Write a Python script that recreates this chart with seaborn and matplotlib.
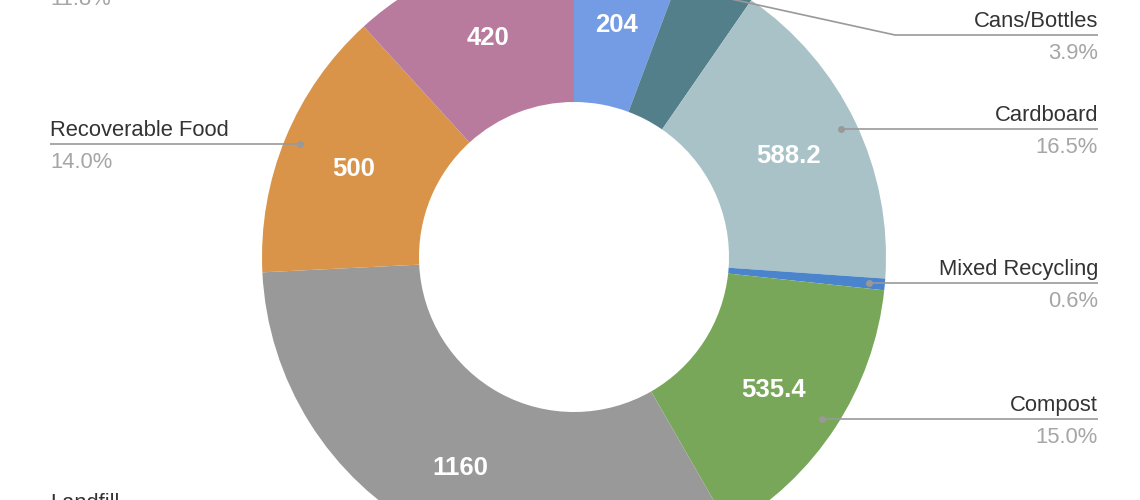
import numpy as np
import matplotlib
matplotlib.use("Agg")
import matplotlib.pyplot as plt
import seaborn as sns

# slices, clockwise from 12 o'clock
categories = ["Paper", "Cans/Bottles", "Cardboard", "Mixed Recycling",
              "Compost", "Landfill", "Recoverable Food", "Other"]
amounts = [204, 139.2, 588.2, 21.4, 535.4, 1160, 500, 420]
slice_colors = ["#739ce4", "#537f8b", "#a8c2c7", "#4a84cc",
                "#78a75a", "#999999", "#d9944a", "#b87b9e"]

sns.set_theme(style="white")
plt.rcParams['font.family'] = ['Liberation Sans', 'DejaVu Sans']

W, H = 1140, 500
cx, cy = 574, 243          # donut centre (y up)
R, hole = 312, 155         # outer / inner radius
dot_r, value_r = 296, 238
gap = 59                   # min spacing between leader lines
top_limit = H + 24

palette = sns.color_palette(slice_colors)
total = sum(amounts)

fig = plt.figure(figsize=(11.4, 5), dpi=100)
ax = fig.add_axes([0, 0, 1, 1])
wedges, _ = ax.pie(amounts, colors=palette, startangle=90, counterclock=False,
                   center=(cx, cy), radius=R,
                   wedgeprops=dict(width=R - hole, linewidth=0))
ax.set_xlim(0, W)
ax.set_ylim(0, H)
ax.set_aspect('equal')
ax.axis('off')

# value labels inside the ring
right, left = [], []
for w, name, val in zip(wedges, categories, amounts):
    ang = np.deg2rad((w.theta1 + w.theta2) / 2)
    share = val / total * 100
    if share >= 5:
        ax.text(cx + value_r * np.cos(ang), cy + value_r * np.sin(ang),
                f"{val:g}", color="white", fontsize=18.5, fontweight="bold",
                ha="center", va="center_baseline")
    dx, dy = cx + dot_r * np.cos(ang), cy + dot_r * np.sin(ang)
    item = (dy, dx, name, share)
    (right if np.cos(ang) > 0 else left).append(item)

# leader lines + names + percentages
for items, text_x, elbow_x, ha in [(right, 1098, cx + R + 9, "right"),
                                   (left, 50, cx - R - 9, "left")]:
    items.sort(key=lambda t: -t[0])
    prev = None
    for dy, dx, name, share in items:
        line_y = min(dy, top_limit) if prev is None else min(dy, prev - gap)
        prev = line_y
        ax.plot([dx, elbow_x, text_x], [dy, line_y, line_y],
                color="#999999", lw=1.2, solid_capstyle="butt")
        ax.plot(dx, dy, "o", ms=5, color="#999999", mec="none")
        ax.text(text_x, line_y + 8, name, ha=ha, va="baseline",
                fontsize=15.8, color="#333333")
        ax.text(text_x, line_y - 24, f"{share:.1f}%", ha=ha, va="baseline",
                fontsize=15.8, color="#a6a6a6")

fig.savefig("out.png", dpi=100)
